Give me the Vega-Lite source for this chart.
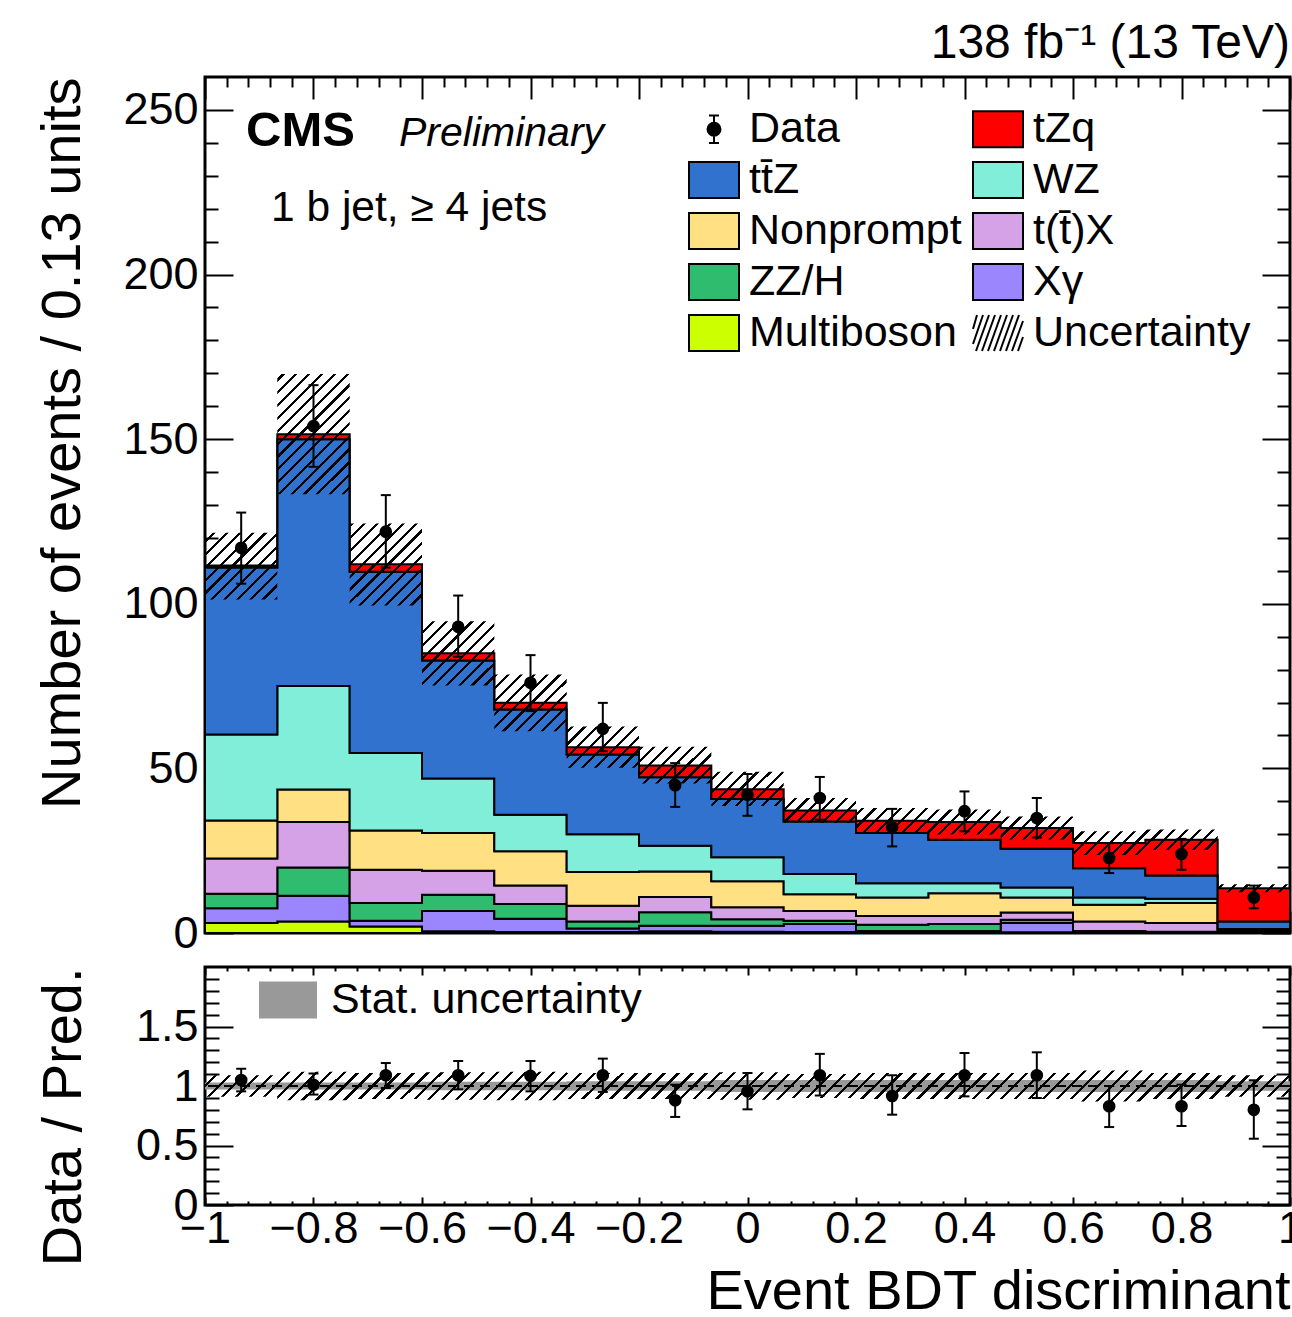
{
"$schema": "https://vega.github.io/schema/vega-lite/v6.json",
"padding": {"left": 33, "top": 18, "right": 0, "bottom": 0},
"spacing": 6,
"config": {
  "font": "Liberation Sans",
  "view": {"stroke": "black", "strokeWidth": 3},
  "axis": {"domain": false, "grid": false, "tickColor": "black", "tickWidth": 2, "labelColor": "black", "labelFontSize": 45, "titleFontSize": 56, "titleFontWeight": "normal", "titleColor": "black", "labelOverlap": false, "labelFlush": false, "zindex": 1},
  "legend": {"labelColor": "black", "labelLimit": 500, "padding": 0},
  "title": {"color": "black"}
},
"datasets": {
  "stack": [
    {"lo": -1, "hi": -0.8667, "Multiboson": 3.0, "X\u03b3": 4.5, "ZZ/H": 4.4, "t(t\u0304)X": 10.7, "Nonprompt": 11.6, "WZ": 26.1, "tt\u0304Z": 50.7, "tZq": 0.6},
    {"lo": -0.8667, "hi": -0.7333, "Multiboson": 3.5, "X\u03b3": 7.8, "ZZ/H": 8.6, "t(t\u0304)X": 13.8, "Nonprompt": 9.9, "WZ": 31.4, "tt\u0304Z": 75.0, "tZq": 1.5},
    {"lo": -0.7333, "hi": -0.6, "Multiboson": 2.0, "X\u03b3": 1.7, "ZZ/H": 5.4, "t(t\u0304)X": 10.1, "Nonprompt": 11.9, "WZ": 23.6, "tt\u0304Z": 55.0, "tZq": 2.3},
    {"lo": -0.6, "hi": -0.4667, "Multiboson": 0.5, "X\u03b3": 6.2, "ZZ/H": 4.9, "t(t\u0304)X": 7.3, "Nonprompt": 11.5, "WZ": 16.5, "tt\u0304Z": 35.9, "tZq": 2.2},
    {"lo": -0.4667, "hi": -0.3333, "Multiboson": 0.3, "X\u03b3": 4.0, "ZZ/H": 4.5, "t(t\u0304)X": 5.6, "Nonprompt": 10.4, "WZ": 11.1, "tt\u0304Z": 32.0, "tZq": 2.0},
    {"lo": -0.3333, "hi": -0.2, "Multiboson": 0.3, "X\u03b3": 1.1, "ZZ/H": 2.1, "t(t\u0304)X": 4.8, "Nonprompt": 10.2, "WZ": 11.5, "tt\u0304Z": 24.2, "tZq": 2.2},
    {"lo": -0.2, "hi": -0.0667, "Multiboson": 0.5, "X\u03b3": 1.7, "ZZ/H": 4.1, "t(t\u0304)X": 4.6, "Nonprompt": 7.8, "WZ": 7.8, "tt\u0304Z": 20.8, "tZq": 3.6},
    {"lo": -0.0667, "hi": 0.0667, "Multiboson": 0.4, "X\u03b3": 1.8, "ZZ/H": 2.0, "t(t\u0304)X": 3.6, "Nonprompt": 7.9, "WZ": 7.3, "tt\u0304Z": 17.7, "tZq": 3.0},
    {"lo": 0.0667, "hi": 0.2, "Multiboson": 0.3, "X\u03b3": 2.4, "ZZ/H": 1.0, "t(t\u0304)X": 3.0, "Nonprompt": 5.1, "WZ": 6.1, "tt\u0304Z": 16.0, "tZq": 3.3},
    {"lo": 0.2, "hi": 0.3333, "Multiboson": 0.2, "X\u03b3": 0.4, "ZZ/H": 1.9, "t(t\u0304)X": 2.7, "Nonprompt": 5.6, "WZ": 4.3, "tt\u0304Z": 15.3, "tZq": 3.7},
    {"lo": 0.3333, "hi": 0.4667, "Multiboson": 0.2, "X\u03b3": 0.4, "ZZ/H": 2.1, "t(t\u0304)X": 2.5, "Nonprompt": 6.9, "WZ": 3.0, "tt\u0304Z": 13.2, "tZq": 5.4},
    {"lo": 0.4667, "hi": 0.6, "Multiboson": 0.2, "X\u03b3": 2.8, "ZZ/H": 1.0, "t(t\u0304)X": 2.2, "Nonprompt": 4.6, "WZ": 3.0, "tt\u0304Z": 11.8, "tZq": 6.3},
    {"lo": 0.6, "hi": 0.7333, "Multiboson": 0.1, "X\u03b3": 0.2, "ZZ/H": 0.3, "t(t\u0304)X": 2.9, "Nonprompt": 5.1, "WZ": 2.2, "tt\u0304Z": 8.9, "tZq": 7.6},
    {"lo": 0.7333, "hi": 0.8667, "Multiboson": 0.1, "X\u03b3": 0.1, "ZZ/H": 0.2, "t(t\u0304)X": 2.6, "Nonprompt": 6.1, "WZ": 1.3, "tt\u0304Z": 7.1, "tZq": 10.8},
    {"lo": 0.8667, "hi": 1, "Multiboson": 0.1, "X\u03b3": 0.1, "ZZ/H": 0.1, "t(t\u0304)X": 0.3, "Nonprompt": 0.4, "WZ": 0.2, "tt\u0304Z": 2.3, "tZq": 10.1}
  ],
  "bins": [
    {"lo": -1, "hi": -0.8667, "c": -0.9333, "u_lo": 101.3, "u_hi": 121.6, "d": 117.0, "d_lo": 106.1, "d_hi": 127.7, "r": 1.05, "r_lo": 0.955, "r_hi": 1.145, "s_lo": 0.97, "s_hi": 1.03, "h_lo": 0.91, "h_hi": 1.09},
    {"lo": -0.8667, "hi": -0.7333, "c": -0.8, "u_lo": 133.3, "u_hi": 169.8, "d": 154.0, "d_lo": 141.6, "d_hi": 166.4, "r": 1.01, "r_lo": 0.928, "r_hi": 1.105, "s_lo": 0.97, "s_hi": 1.03, "h_lo": 0.88, "h_hi": 1.12},
    {"lo": -0.7333, "hi": -0.6, "c": -0.6667, "u_lo": 99.5, "u_hi": 124.4, "d": 121.9, "d_lo": 111.0, "d_hi": 133.0, "r": 1.09, "r_lo": 0.983, "r_hi": 1.193, "s_lo": 0.97, "s_hi": 1.03, "h_lo": 0.89, "h_hi": 1.11},
    {"lo": -0.6, "hi": -0.4667, "c": -0.5333, "u_lo": 75.2, "u_hi": 94.7, "d": 93.0, "d_lo": 83.9, "d_hi": 102.5, "r": 1.09, "r_lo": 0.972, "r_hi": 1.21, "s_lo": 0.965, "s_hi": 1.035, "h_lo": 0.885, "h_hi": 1.115},
    {"lo": -0.4667, "hi": -0.3333, "c": -0.4, "u_lo": 61.3, "u_hi": 78.5, "d": 76.0, "d_lo": 67.4, "d_hi": 84.4, "r": 1.085, "r_lo": 0.955, "r_hi": 1.21, "s_lo": 0.965, "s_hi": 1.035, "h_lo": 0.88, "h_hi": 1.12},
    {"lo": -0.3333, "hi": -0.2, "c": -0.2667, "u_lo": 50.2, "u_hi": 62.7, "d": 62.0, "d_lo": 55.2, "d_hi": 69.9, "r": 1.09, "r_lo": 0.95, "r_hi": 1.23, "s_lo": 0.96, "s_hi": 1.04, "h_lo": 0.89, "h_hi": 1.11},
    {"lo": -0.2, "hi": -0.0667, "c": -0.1333, "u_lo": 45.4, "u_hi": 56.6, "d": 44.9, "d_lo": 38.3, "d_hi": 51.6, "r": 0.88, "r_lo": 0.74, "r_hi": 1.011, "s_lo": 0.96, "s_hi": 1.04, "h_lo": 0.89, "h_hi": 1.11},
    {"lo": -0.0667, "hi": 0.0667, "c": 0, "u_lo": 38.6, "u_hi": 49.0, "d": 42.0, "d_lo": 35.6, "d_hi": 48.3, "r": 0.955, "r_lo": 0.804, "r_hi": 1.109, "s_lo": 0.95, "s_hi": 1.05, "h_lo": 0.885, "h_hi": 1.115},
    {"lo": 0.0667, "hi": 0.2, "c": 0.1333, "u_lo": 33.4, "u_hi": 41.0, "d": 41.0, "d_lo": 34.4, "d_hi": 47.4, "r": 1.09, "r_lo": 0.92, "r_hi": 1.27, "s_lo": 0.95, "s_hi": 1.05, "h_lo": 0.9, "h_hi": 1.1},
    {"lo": 0.2, "hi": 0.3333, "c": 0.2667, "u_lo": 30.2, "u_hi": 38.0, "d": 32.1, "d_lo": 26.3, "d_hi": 37.7, "r": 0.916, "r_lo": 0.759, "r_hi": 1.09, "s_lo": 0.95, "s_hi": 1.05, "h_lo": 0.89, "h_hi": 1.11},
    {"lo": 0.3333, "hi": 0.4667, "c": 0.4, "u_lo": 29.9, "u_hi": 37.5, "d": 37.0, "d_lo": 30.9, "d_hi": 43.0, "r": 1.09, "r_lo": 0.913, "r_hi": 1.277, "s_lo": 0.95, "s_hi": 1.05, "h_lo": 0.89, "h_hi": 1.11},
    {"lo": 0.4667, "hi": 0.6, "c": 0.5333, "u_lo": 28.4, "u_hi": 35.4, "d": 34.9, "d_lo": 29.0, "d_hi": 41.0, "r": 1.09, "r_lo": 0.899, "r_hi": 1.283, "s_lo": 0.95, "s_hi": 1.05, "h_lo": 0.89, "h_hi": 1.11},
    {"lo": 0.6, "hi": 0.7333, "c": 0.6667, "u_lo": 23.7, "u_hi": 30.9, "d": 22.8, "d_lo": 18.2, "d_hi": 27.3, "r": 0.83, "r_lo": 0.655, "r_hi": 1.0, "s_lo": 0.95, "s_hi": 1.05, "h_lo": 0.87, "h_hi": 1.13},
    {"lo": 0.7333, "hi": 0.8667, "c": 0.8, "u_lo": 25.2, "u_hi": 31.4, "d": 24.0, "d_lo": 19.2, "d_hi": 28.6, "r": 0.83, "r_lo": 0.664, "r_hi": 1.011, "s_lo": 0.95, "s_hi": 1.05, "h_lo": 0.89, "h_hi": 1.11},
    {"lo": 0.8667, "hi": 1, "c": 0.9333, "u_lo": 12.4, "u_hi": 14.8, "d": 10.8, "d_lo": 7.5, "d_hi": 14.4, "r": 0.8, "r_lo": 0.557, "r_hi": 1.048, "s_lo": 0.96, "s_hi": 1.04, "h_lo": 0.91, "h_hi": 1.09}
  ]
},
"resolve": {"legend": {"color": "independent", "fill": "independent"}},
"vconcat": [
  {
    "width": 1085,
    "height": 856,
    "title": {"text": "138 fb\u207b\u00b9 (13 TeV)", "anchor": "end", "frame": "group", "fontSize": 48, "fontWeight": "normal", "offset": 8, "color": "black"},
    "resolve": {"axis": {"x": "independent", "y": "independent"}},
    "layer": [
      {
        "data": {"name": "stack"},
        "transform": [
          {"fold": ["Multiboson", "X\u03b3", "ZZ/H", "t(t\u0304)X", "Nonprompt", "WZ", "tt\u0304Z", "tZq"], "as": ["p", "v"]},
          {"fold": ["lo", "hi"], "as": ["side", "x"]},
          {"stack": "v", "groupby": ["x", "side"], "as": ["y0", "y1"]}
        ],
        "mark": {"type": "area", "stroke": "black", "strokeWidth": 2, "opacity": 1},
        "encoding": {
          "x": {"field": "x", "type": "quantitative", "scale": {"domain": [-1, 1], "nice": false, "zero": false},
                "axis": {"orient": "bottom", "values": [-1, -0.8, -0.6, -0.4, -0.2, 0, 0.2, 0.4, 0.6, 0.8, 1], "labels": false, "tickSize": -22, "title": null}},
          "y": {"field": "y1", "type": "quantitative", "scale": {"domain": [0, 260], "nice": false, "zero": false},
                "axis": {"orient": "left", "values": [0, 50, 100, 150, 200, 250], "format": "d", "tickSize": -28, "labelPadding": 35, "title": "Number of events / 0.13 units", "titleAnchor": "end", "titlePadding": 31}},
          "y2": {"field": "y0"},
          "color": {"field": "p", "type": "nominal",
                    "scale": {"domain": ["Data", "tZq", "tt\u0304Z", "WZ", "Nonprompt", "t(t\u0304)X", "ZZ/H", "X\u03b3", "Multiboson", "Uncertainty"],
                              "range": ["black", "#ff0000", "#3272cf", "#80eed9", "#ffe083", "#d6a2e7", "#2fbc6f", "#9b86fd", "#ccff00", "transparent"]},
                    "legend": {"title": null, "orient": "none", "direction": "horizontal", "legendX": 487.5, "legendY": 30.5, "columns": 2, "symbolSize": 1600, "symbolStrokeWidth": 2, "symbolStrokeColor": "black", "labelFontSize": 43, "labelOffset": 13.5, "rowPadding": 6, "columnPadding": 6, "padding": 0,
                               "symbolType": {"expr": "datum.value === 'Data' ? 'M-0.325,0A0.325,0.325 0 1,0 0.325,0A0.325,0.325 0 1,0 -0.325,0ZM0,-0.69V0.69M-0.25,-0.69H0.25M-0.25,0.69H0.25' : datum.value === 'Uncertainty' ? 'M-1.25,-0.2L-1.05,-0.9M-1.25,0.55L-0.75,-0.9M-1.1,0.9L-0.45,-0.9M-0.8,0.9L-0.15,-0.9M-0.5,0.9L0.15,-0.9M-0.2,0.9L0.45,-0.9M0.1,0.9L0.75,-0.9M0.4,0.9L1.05,-0.9M0.7,0.9L1.25,-0.6M1.0,0.9L1.25,0.2' : 'M-1.25,-0.9H1.25V0.9H-1.25Z'"}}}
        }
      },
      {
        "data": {"name": "bins"},
        "transform": [{"fold": ["lo", "hi"], "as": ["side", "x"]}],
        "mark": {"type": "area", "opacity": 1, "fill": {"gradient": "linear", "x1": 0, "y1": 0, "x2": 1.2031, "y2": 0.5753, "stops": [
{"offset":0,"color":"#000"},{"offset":0.002,"color":"#000"},{"offset":0.002,"color":"transparent"},{"offset":0.008,"color":"transparent"},
{"offset":0.008,"color":"#000"},{"offset":0.01,"color":"#000"},{"offset":0.01,"color":"transparent"},{"offset":0.016,"color":"transparent"},
{"offset":0.016,"color":"#000"},{"offset":0.018,"color":"#000"},{"offset":0.018,"color":"transparent"},{"offset":0.024,"color":"transparent"},
{"offset":0.024,"color":"#000"},{"offset":0.026,"color":"#000"},{"offset":0.026,"color":"transparent"},{"offset":0.032,"color":"transparent"},
{"offset":0.032,"color":"#000"},{"offset":0.034,"color":"#000"},{"offset":0.034,"color":"transparent"},{"offset":0.04,"color":"transparent"},
{"offset":0.04,"color":"#000"},{"offset":0.042,"color":"#000"},{"offset":0.042,"color":"transparent"},{"offset":0.048,"color":"transparent"},
{"offset":0.048,"color":"#000"},{"offset":0.05,"color":"#000"},{"offset":0.05,"color":"transparent"},{"offset":0.056,"color":"transparent"},
{"offset":0.056,"color":"#000"},{"offset":0.058,"color":"#000"},{"offset":0.058,"color":"transparent"},{"offset":0.064,"color":"transparent"},
{"offset":0.064,"color":"#000"},{"offset":0.066,"color":"#000"},{"offset":0.066,"color":"transparent"},{"offset":0.072,"color":"transparent"},
{"offset":0.072,"color":"#000"},{"offset":0.074,"color":"#000"},{"offset":0.074,"color":"transparent"},{"offset":0.08,"color":"transparent"},
{"offset":0.08,"color":"#000"},{"offset":0.082,"color":"#000"},{"offset":0.082,"color":"transparent"},{"offset":0.088,"color":"transparent"},
{"offset":0.088,"color":"#000"},{"offset":0.09,"color":"#000"},{"offset":0.09,"color":"transparent"},{"offset":0.096,"color":"transparent"},
{"offset":0.096,"color":"#000"},{"offset":0.098,"color":"#000"},{"offset":0.098,"color":"transparent"},{"offset":0.104,"color":"transparent"},
{"offset":0.104,"color":"#000"},{"offset":0.106,"color":"#000"},{"offset":0.106,"color":"transparent"},{"offset":0.112,"color":"transparent"},
{"offset":0.112,"color":"#000"},{"offset":0.114,"color":"#000"},{"offset":0.114,"color":"transparent"},{"offset":0.12,"color":"transparent"},
{"offset":0.12,"color":"#000"},{"offset":0.122,"color":"#000"},{"offset":0.122,"color":"transparent"},{"offset":0.128,"color":"transparent"},
{"offset":0.128,"color":"#000"},{"offset":0.13,"color":"#000"},{"offset":0.13,"color":"transparent"},{"offset":0.136,"color":"transparent"},
{"offset":0.136,"color":"#000"},{"offset":0.138,"color":"#000"},{"offset":0.138,"color":"transparent"},{"offset":0.144,"color":"transparent"},
{"offset":0.144,"color":"#000"},{"offset":0.146,"color":"#000"},{"offset":0.146,"color":"transparent"},{"offset":0.152,"color":"transparent"},
{"offset":0.152,"color":"#000"},{"offset":0.154,"color":"#000"},{"offset":0.154,"color":"transparent"},{"offset":0.16,"color":"transparent"},
{"offset":0.16,"color":"#000"},{"offset":0.162,"color":"#000"},{"offset":0.162,"color":"transparent"},{"offset":0.168,"color":"transparent"},
{"offset":0.168,"color":"#000"},{"offset":0.17,"color":"#000"},{"offset":0.17,"color":"transparent"},{"offset":0.176,"color":"transparent"},
{"offset":0.176,"color":"#000"},{"offset":0.178,"color":"#000"},{"offset":0.178,"color":"transparent"},{"offset":0.184,"color":"transparent"},
{"offset":0.184,"color":"#000"},{"offset":0.186,"color":"#000"},{"offset":0.186,"color":"transparent"},{"offset":0.192,"color":"transparent"},
{"offset":0.192,"color":"#000"},{"offset":0.194,"color":"#000"},{"offset":0.194,"color":"transparent"},{"offset":0.2,"color":"transparent"},
{"offset":0.2,"color":"#000"},{"offset":0.202,"color":"#000"},{"offset":0.202,"color":"transparent"},{"offset":0.208,"color":"transparent"},
{"offset":0.208,"color":"#000"},{"offset":0.21,"color":"#000"},{"offset":0.21,"color":"transparent"},{"offset":0.216,"color":"transparent"},
{"offset":0.216,"color":"#000"},{"offset":0.218,"color":"#000"},{"offset":0.218,"color":"transparent"},{"offset":0.224,"color":"transparent"},
{"offset":0.224,"color":"#000"},{"offset":0.226,"color":"#000"},{"offset":0.226,"color":"transparent"},{"offset":0.232,"color":"transparent"},
{"offset":0.232,"color":"#000"},{"offset":0.234,"color":"#000"},{"offset":0.234,"color":"transparent"},{"offset":0.24,"color":"transparent"},
{"offset":0.24,"color":"#000"},{"offset":0.242,"color":"#000"},{"offset":0.242,"color":"transparent"},{"offset":0.248,"color":"transparent"},
{"offset":0.248,"color":"#000"},{"offset":0.25,"color":"#000"},{"offset":0.25,"color":"transparent"},{"offset":0.256,"color":"transparent"},
{"offset":0.256,"color":"#000"},{"offset":0.258,"color":"#000"},{"offset":0.258,"color":"transparent"},{"offset":0.264,"color":"transparent"},
{"offset":0.264,"color":"#000"},{"offset":0.266,"color":"#000"},{"offset":0.266,"color":"transparent"},{"offset":0.272,"color":"transparent"},
{"offset":0.272,"color":"#000"},{"offset":0.274,"color":"#000"},{"offset":0.274,"color":"transparent"},{"offset":0.28,"color":"transparent"},
{"offset":0.28,"color":"#000"},{"offset":0.282,"color":"#000"},{"offset":0.282,"color":"transparent"},{"offset":0.288,"color":"transparent"},
{"offset":0.288,"color":"#000"},{"offset":0.29,"color":"#000"},{"offset":0.29,"color":"transparent"},{"offset":0.296,"color":"transparent"},
{"offset":0.296,"color":"#000"},{"offset":0.298,"color":"#000"},{"offset":0.298,"color":"transparent"},{"offset":0.304,"color":"transparent"},
{"offset":0.304,"color":"#000"},{"offset":0.306,"color":"#000"},{"offset":0.306,"color":"transparent"},{"offset":0.312,"color":"transparent"},
{"offset":0.312,"color":"#000"},{"offset":0.314,"color":"#000"},{"offset":0.314,"color":"transparent"},{"offset":0.32,"color":"transparent"},
{"offset":0.32,"color":"#000"},{"offset":0.322,"color":"#000"},{"offset":0.322,"color":"transparent"},{"offset":0.328,"color":"transparent"},
{"offset":0.328,"color":"#000"},{"offset":0.33,"color":"#000"},{"offset":0.33,"color":"transparent"},{"offset":0.336,"color":"transparent"},
{"offset":0.336,"color":"#000"},{"offset":0.338,"color":"#000"},{"offset":0.338,"color":"transparent"},{"offset":0.344,"color":"transparent"},
{"offset":0.344,"color":"#000"},{"offset":0.346,"color":"#000"},{"offset":0.346,"color":"transparent"},{"offset":0.352,"color":"transparent"},
{"offset":0.352,"color":"#000"},{"offset":0.354,"color":"#000"},{"offset":0.354,"color":"transparent"},{"offset":0.36,"color":"transparent"},
{"offset":0.36,"color":"#000"},{"offset":0.362,"color":"#000"},{"offset":0.362,"color":"transparent"},{"offset":0.368,"color":"transparent"},
{"offset":0.368,"color":"#000"},{"offset":0.37,"color":"#000"},{"offset":0.37,"color":"transparent"},{"offset":0.376,"color":"transparent"},
{"offset":0.376,"color":"#000"},{"offset":0.378,"color":"#000"},{"offset":0.378,"color":"transparent"},{"offset":0.384,"color":"transparent"},
{"offset":0.384,"color":"#000"},{"offset":0.386,"color":"#000"},{"offset":0.386,"color":"transparent"},{"offset":0.392,"color":"transparent"},
{"offset":0.392,"color":"#000"},{"offset":0.394,"color":"#000"},{"offset":0.394,"color":"transparent"},{"offset":0.4,"color":"transparent"},
{"offset":0.4,"color":"#000"},{"offset":0.402,"color":"#000"},{"offset":0.402,"color":"transparent"},{"offset":0.408,"color":"transparent"},
{"offset":0.408,"color":"#000"},{"offset":0.41,"color":"#000"},{"offset":0.41,"color":"transparent"},{"offset":0.416,"color":"transparent"},
{"offset":0.416,"color":"#000"},{"offset":0.418,"color":"#000"},{"offset":0.418,"color":"transparent"},{"offset":0.424,"color":"transparent"},
{"offset":0.424,"color":"#000"},{"offset":0.426,"color":"#000"},{"offset":0.426,"color":"transparent"},{"offset":0.432,"color":"transparent"},
{"offset":0.432,"color":"#000"},{"offset":0.434,"color":"#000"},{"offset":0.434,"color":"transparent"},{"offset":0.44,"color":"transparent"},
{"offset":0.44,"color":"#000"},{"offset":0.442,"color":"#000"},{"offset":0.442,"color":"transparent"},{"offset":0.448,"color":"transparent"},
{"offset":0.448,"color":"#000"},{"offset":0.45,"color":"#000"},{"offset":0.45,"color":"transparent"},{"offset":0.456,"color":"transparent"},
{"offset":0.456,"color":"#000"},{"offset":0.458,"color":"#000"},{"offset":0.458,"color":"transparent"},{"offset":0.464,"color":"transparent"},
{"offset":0.464,"color":"#000"},{"offset":0.466,"color":"#000"},{"offset":0.466,"color":"transparent"},{"offset":0.472,"color":"transparent"},
{"offset":0.472,"color":"#000"},{"offset":0.474,"color":"#000"},{"offset":0.474,"color":"transparent"},{"offset":0.48,"color":"transparent"},
{"offset":0.48,"color":"#000"},{"offset":0.482,"color":"#000"},{"offset":0.482,"color":"transparent"},{"offset":0.488,"color":"transparent"},
{"offset":0.488,"color":"#000"},{"offset":0.49,"color":"#000"},{"offset":0.49,"color":"transparent"},{"offset":0.496,"color":"transparent"},
{"offset":0.496,"color":"#000"},{"offset":0.498,"color":"#000"},{"offset":0.498,"color":"transparent"},{"offset":0.504,"color":"transparent"},
{"offset":0.504,"color":"#000"},{"offset":0.506,"color":"#000"},{"offset":0.506,"color":"transparent"},{"offset":0.512,"color":"transparent"},
{"offset":0.512,"color":"#000"},{"offset":0.514,"color":"#000"},{"offset":0.514,"color":"transparent"},{"offset":0.52,"color":"transparent"},
{"offset":0.52,"color":"#000"},{"offset":0.522,"color":"#000"},{"offset":0.522,"color":"transparent"},{"offset":0.528,"color":"transparent"},
{"offset":0.528,"color":"#000"},{"offset":0.53,"color":"#000"},{"offset":0.53,"color":"transparent"},{"offset":0.536,"color":"transparent"},
{"offset":0.536,"color":"#000"},{"offset":0.538,"color":"#000"},{"offset":0.538,"color":"transparent"},{"offset":0.544,"color":"transparent"},
{"offset":0.544,"color":"#000"},{"offset":0.546,"color":"#000"},{"offset":0.546,"color":"transparent"},{"offset":0.552,"color":"transparent"},
{"offset":0.552,"color":"#000"},{"offset":0.554,"color":"#000"},{"offset":0.554,"color":"transparent"},{"offset":0.56,"color":"transparent"},
{"offset":0.56,"color":"#000"},{"offset":0.562,"color":"#000"},{"offset":0.562,"color":"transparent"},{"offset":0.568,"color":"transparent"},
{"offset":0.568,"color":"#000"},{"offset":0.57,"color":"#000"},{"offset":0.57,"color":"transparent"},{"offset":0.576,"color":"transparent"},
{"offset":0.576,"color":"#000"},{"offset":0.578,"color":"#000"},{"offset":0.578,"color":"transparent"},{"offset":0.584,"color":"transparent"},
{"offset":0.584,"color":"#000"},{"offset":0.586,"color":"#000"},{"offset":0.586,"color":"transparent"},{"offset":0.592,"color":"transparent"},
{"offset":0.592,"color":"#000"},{"offset":0.594,"color":"#000"},{"offset":0.594,"color":"transparent"},{"offset":0.6,"color":"transparent"},
{"offset":0.6,"color":"#000"},{"offset":0.602,"color":"#000"},{"offset":0.602,"color":"transparent"},{"offset":0.608,"color":"transparent"},
{"offset":0.608,"color":"#000"},{"offset":0.61,"color":"#000"},{"offset":0.61,"color":"transparent"},{"offset":0.616,"color":"transparent"},
{"offset":0.616,"color":"#000"},{"offset":0.618,"color":"#000"},{"offset":0.618,"color":"transparent"},{"offset":0.624,"color":"transparent"},
{"offset":0.624,"color":"#000"},{"offset":0.626,"color":"#000"},{"offset":0.626,"color":"transparent"},{"offset":0.632,"color":"transparent"},
{"offset":0.632,"color":"#000"},{"offset":0.634,"color":"#000"},{"offset":0.634,"color":"transparent"},{"offset":0.64,"color":"transparent"},
{"offset":0.64,"color":"#000"},{"offset":0.642,"color":"#000"},{"offset":0.642,"color":"transparent"},{"offset":0.648,"color":"transparent"},
{"offset":0.648,"color":"#000"},{"offset":0.65,"color":"#000"},{"offset":0.65,"color":"transparent"},{"offset":0.656,"color":"transparent"},
{"offset":0.656,"color":"#000"},{"offset":0.658,"color":"#000"},{"offset":0.658,"color":"transparent"},{"offset":0.664,"color":"transparent"},
{"offset":0.664,"color":"#000"},{"offset":0.666,"color":"#000"},{"offset":0.666,"color":"transparent"},{"offset":0.672,"color":"transparent"},
{"offset":0.672,"color":"#000"},{"offset":0.674,"color":"#000"},{"offset":0.674,"color":"transparent"},{"offset":0.68,"color":"transparent"},
{"offset":0.68,"color":"#000"},{"offset":0.682,"color":"#000"},{"offset":0.682,"color":"transparent"},{"offset":0.688,"color":"transparent"},
{"offset":0.688,"color":"#000"},{"offset":0.69,"color":"#000"},{"offset":0.69,"color":"transparent"},{"offset":0.696,"color":"transparent"},
{"offset":0.696,"color":"#000"},{"offset":0.698,"color":"#000"},{"offset":0.698,"color":"transparent"},{"offset":0.704,"color":"transparent"},
{"offset":0.704,"color":"#000"},{"offset":0.706,"color":"#000"},{"offset":0.706,"color":"transparent"},{"offset":0.712,"color":"transparent"},
{"offset":0.712,"color":"#000"},{"offset":0.714,"color":"#000"},{"offset":0.714,"color":"transparent"},{"offset":0.72,"color":"transparent"},
{"offset":0.72,"color":"#000"},{"offset":0.722,"color":"#000"},{"offset":0.722,"color":"transparent"},{"offset":0.728,"color":"transparent"},
{"offset":0.728,"color":"#000"},{"offset":0.73,"color":"#000"},{"offset":0.73,"color":"transparent"},{"offset":0.736,"color":"transparent"},
{"offset":0.736,"color":"#000"},{"offset":0.738,"color":"#000"},{"offset":0.738,"color":"transparent"},{"offset":0.744,"color":"transparent"},
{"offset":0.744,"color":"#000"},{"offset":0.746,"color":"#000"},{"offset":0.746,"color":"transparent"},{"offset":0.752,"color":"transparent"},
{"offset":0.752,"color":"#000"},{"offset":0.754,"color":"#000"},{"offset":0.754,"color":"transparent"},{"offset":0.76,"color":"transparent"},
{"offset":0.76,"color":"#000"},{"offset":0.762,"color":"#000"},{"offset":0.762,"color":"transparent"},{"offset":0.768,"color":"transparent"},
{"offset":0.768,"color":"#000"},{"offset":0.77,"color":"#000"},{"offset":0.77,"color":"transparent"},{"offset":0.776,"color":"transparent"},
{"offset":0.776,"color":"#000"},{"offset":0.778,"color":"#000"},{"offset":0.778,"color":"transparent"},{"offset":0.784,"color":"transparent"},
{"offset":0.784,"color":"#000"},{"offset":0.786,"color":"#000"},{"offset":0.786,"color":"transparent"},{"offset":0.792,"color":"transparent"},
{"offset":0.792,"color":"#000"},{"offset":0.794,"color":"#000"},{"offset":0.794,"color":"transparent"},{"offset":0.8,"color":"transparent"},
{"offset":0.8,"color":"#000"},{"offset":0.802,"color":"#000"},{"offset":0.802,"color":"transparent"},{"offset":0.808,"color":"transparent"},
{"offset":0.808,"color":"#000"},{"offset":0.81,"color":"#000"},{"offset":0.81,"color":"transparent"},{"offset":0.816,"color":"transparent"},
{"offset":0.816,"color":"#000"},{"offset":0.818,"color":"#000"},{"offset":0.818,"color":"transparent"},{"offset":0.824,"color":"transparent"},
{"offset":0.824,"color":"#000"},{"offset":0.826,"color":"#000"},{"offset":0.826,"color":"transparent"},{"offset":0.832,"color":"transparent"},
{"offset":0.832,"color":"#000"},{"offset":0.834,"color":"#000"},{"offset":0.834,"color":"transparent"},{"offset":0.84,"color":"transparent"},
{"offset":0.84,"color":"#000"},{"offset":0.842,"color":"#000"},{"offset":0.842,"color":"transparent"},{"offset":0.848,"color":"transparent"},
{"offset":0.848,"color":"#000"},{"offset":0.85,"color":"#000"},{"offset":0.85,"color":"transparent"},{"offset":0.856,"color":"transparent"},
{"offset":0.856,"color":"#000"},{"offset":0.858,"color":"#000"},{"offset":0.858,"color":"transparent"},{"offset":0.864,"color":"transparent"},
{"offset":0.864,"color":"#000"},{"offset":0.866,"color":"#000"},{"offset":0.866,"color":"transparent"},{"offset":0.872,"color":"transparent"},
{"offset":0.872,"color":"#000"},{"offset":0.874,"color":"#000"},{"offset":0.874,"color":"transparent"},{"offset":0.88,"color":"transparent"},
{"offset":0.88,"color":"#000"},{"offset":0.882,"color":"#000"},{"offset":0.882,"color":"transparent"},{"offset":0.888,"color":"transparent"},
{"offset":0.888,"color":"#000"},{"offset":0.89,"color":"#000"},{"offset":0.89,"color":"transparent"},{"offset":0.896,"color":"transparent"},
{"offset":0.896,"color":"#000"},{"offset":0.898,"color":"#000"},{"offset":0.898,"color":"transparent"},{"offset":0.904,"color":"transparent"},
{"offset":0.904,"color":"#000"},{"offset":0.906,"color":"#000"},{"offset":0.906,"color":"transparent"},{"offset":0.912,"color":"transparent"},
{"offset":0.912,"color":"#000"},{"offset":0.914,"color":"#000"},{"offset":0.914,"color":"transparent"},{"offset":0.92,"color":"transparent"},
{"offset":0.92,"color":"#000"},{"offset":0.922,"color":"#000"},{"offset":0.922,"color":"transparent"},{"offset":0.928,"color":"transparent"},
{"offset":0.928,"color":"#000"},{"offset":0.93,"color":"#000"},{"offset":0.93,"color":"transparent"},{"offset":0.936,"color":"transparent"},
{"offset":0.936,"color":"#000"},{"offset":0.938,"color":"#000"},{"offset":0.938,"color":"transparent"},{"offset":0.944,"color":"transparent"},
{"offset":0.944,"color":"#000"},{"offset":0.946,"color":"#000"},{"offset":0.946,"color":"transparent"},{"offset":0.952,"color":"transparent"},
{"offset":0.952,"color":"#000"},{"offset":0.954,"color":"#000"},{"offset":0.954,"color":"transparent"},{"offset":0.96,"color":"transparent"},
{"offset":0.96,"color":"#000"},{"offset":0.962,"color":"#000"},{"offset":0.962,"color":"transparent"},{"offset":0.968,"color":"transparent"},
{"offset":0.968,"color":"#000"},{"offset":0.97,"color":"#000"},{"offset":0.97,"color":"transparent"},{"offset":0.976,"color":"transparent"},
{"offset":0.976,"color":"#000"},{"offset":0.978,"color":"#000"},{"offset":0.978,"color":"transparent"},{"offset":0.984,"color":"transparent"},
{"offset":0.984,"color":"#000"},{"offset":0.986,"color":"#000"},{"offset":0.986,"color":"transparent"},{"offset":0.992,"color":"transparent"},
{"offset":0.992,"color":"#000"},{"offset":0.994,"color":"#000"},{"offset":0.994,"color":"transparent"},{"offset":1,"color":"transparent"}
        ]}},
        "encoding": {
          "x": {"field": "x", "type": "quantitative", "scale": {"domain": [-1, 1], "nice": false, "zero": false},
                "axis": {"orient": "top", "values": [-1, -0.8, -0.6, -0.4, -0.2, 0, 0.2, 0.4, 0.6, 0.8, 1], "labels": false, "tickSize": -22, "title": null}},
          "y": {"field": "u_hi", "type": "quantitative", "scale": {"domain": [0, 260], "nice": false, "zero": false},
                "axis": {"orient": "right", "values": [0, 50, 100, 150, 200, 250], "labels": false, "tickSize": -28, "title": null}},
          "y2": {"field": "u_lo"}
        }
      },
      {
        "data": {"name": "bins"},
        "mark": {"type": "rule", "color": "black", "strokeWidth": 2},
        "encoding": {
          "x": {"field": "c", "type": "quantitative", "scale": {"domain": [-1, 1], "nice": false, "zero": false},
                "axis": {"orient": "bottom", "values": [-0.96,-0.92,-0.88,-0.84,-0.76,-0.72,-0.68,-0.64,-0.56,-0.52,-0.48,-0.44,-0.36,-0.32,-0.28,-0.24,-0.16,-0.12,-0.08,-0.04,0.04,0.08,0.12,0.16,0.24,0.28,0.32,0.36,0.44,0.48,0.52,0.56,0.64,0.68,0.72,0.76,0.84,0.88,0.92,0.96], "labels": false, "tickSize": -10, "title": null}},
          "y": {"field": "d_lo", "type": "quantitative", "scale": {"domain": [0, 260], "nice": false, "zero": false},
                "axis": {"orient": "left", "values": [10,20,30,40,60,70,80,90,110,120,130,140,160,170,180,190,210,220,230,240], "labels": false, "tickSize": -13, "title": null}},
          "y2": {"field": "d_hi"}
        }
      },
      {
        "data": {"name": "bins"},
        "transform": [{"fold": ["d_lo", "d_hi"], "as": ["e", "ev"]}],
        "mark": {"type": "point", "shape": "M-1,0H1", "size": 100, "filled": false, "stroke": "black", "strokeWidth": 2, "opacity": 1},
        "encoding": {
          "x": {"field": "c", "type": "quantitative", "scale": {"domain": [-1, 1], "nice": false, "zero": false},
                "axis": {"orient": "top", "values": [-0.96,-0.92,-0.88,-0.84,-0.76,-0.72,-0.68,-0.64,-0.56,-0.52,-0.48,-0.44,-0.36,-0.32,-0.28,-0.24,-0.16,-0.12,-0.08,-0.04,0.04,0.08,0.12,0.16,0.24,0.28,0.32,0.36,0.44,0.48,0.52,0.56,0.64,0.68,0.72,0.76,0.84,0.88,0.92,0.96], "labels": false, "tickSize": -10, "title": null}},
          "y": {"field": "ev", "type": "quantitative", "scale": {"domain": [0, 260], "nice": false, "zero": false},
                "axis": {"orient": "right", "values": [10,20,30,40,60,70,80,90,110,120,130,140,160,170,180,190,210,220,230,240], "labels": false, "tickSize": -13, "title": null}}
        }
      },
      {
        "data": {"name": "bins"},
        "mark": {"type": "circle", "color": "black", "size": 160, "opacity": 1},
        "encoding": {
          "x": {"field": "c", "type": "quantitative", "scale": {"domain": [-1, 1], "nice": false, "zero": false}, "axis": null},
          "y": {"field": "d", "type": "quantitative", "scale": {"domain": [0, 260], "nice": false, "zero": false}, "axis": null}
        }
      },
      {
        "data": {"values": [{"t": "CMS"}]},
        "mark": {"type": "text", "fontSize": 49, "fontWeight": "bold", "align": "left", "baseline": "alphabetic", "color": "black"},
        "encoding": {"x": {"datum": -0.9244, "type": "quantitative", "axis": null}, "y": {"datum": 239.0, "type": "quantitative", "axis": null}, "text": {"field": "t"}}
      },
      {
        "data": {"values": [{"t": "Preliminary"}]},
        "mark": {"type": "text", "fontSize": 41, "fontStyle": "italic", "align": "left", "baseline": "alphabetic", "color": "black"},
        "encoding": {"x": {"datum": -0.6424, "type": "quantitative", "axis": null}, "y": {"datum": 239.0, "type": "quantitative", "axis": null}, "text": {"field": "t"}}
      },
      {
        "data": {"values": [{"t": "1 b jet, \u2265 4 jets"}]},
        "mark": {"type": "text", "fontSize": 42.5, "align": "left", "baseline": "alphabetic", "color": "black"},
        "encoding": {"x": {"datum": -0.8783, "type": "quantitative", "axis": null}, "y": {"datum": 216.4, "type": "quantitative", "axis": null}, "text": {"field": "t"}}
      }
    ]
  },
  {
    "width": 1085,
    "height": 238,
    "resolve": {"axis": {"x": "independent", "y": "independent"}},
    "layer": [
      {
        "data": {"name": "bins"},
        "transform": [{"fold": ["lo", "hi"], "as": ["side", "x"]}],
        "mark": {"type": "area", "opacity": 1},
        "encoding": {
          "x": {"field": "x", "type": "quantitative", "scale": {"domain": [-1, 1], "nice": false, "zero": false},
                "axis": {"orient": "bottom", "values": [-1, -0.8, -0.6, -0.4, -0.2, 0, 0.2, 0.4, 0.6, 0.8, 1], "format": "~g", "tickSize": -8, "labelPadding": 9, "title": "Event BDT discriminant", "titleAnchor": "end", "titlePadding": 13}},
          "y": {"field": "s_hi", "type": "quantitative", "scale": {"domain": [0, 2], "nice": false, "zero": false},
                "axis": {"orient": "left", "values": [0, 0.5, 1, 1.5], "format": "~g", "tickSize": -28, "labelPadding": 35, "title": "Data / Pred.", "titleAnchor": "end", "titlePadding": 43}},
          "y2": {"field": "s_lo"},
          "fill": {"datum": "Stat. uncertainty", "type": "nominal", "scale": {"range": ["#999999"]},
                   "legend": {"title": null, "orient": "none", "legendX": 54, "legendY": 4, "symbolType": "M-1,-0.64H1V0.64H-1Z", "symbolSize": 3364, "symbolStrokeWidth": 0, "labelFontSize": 43, "labelOffset": 14, "padding": 0}}
        }
      },
      {
        "data": {"name": "bins"},
        "transform": [{"fold": ["lo", "hi"], "as": ["side", "x"]}],
        "mark": {"type": "area", "opacity": 1, "fill": {"gradient": "linear", "x1": 0, "y1": 0, "x2": 1.0277, "y2": 0.0294, "stops": [
{"offset":0,"color":"#000"},{"offset":0.003,"color":"#000"},{"offset":0.003,"color":"transparent"},{"offset":0.0125,"color":"transparent"},
{"offset":0.0125,"color":"#000"},{"offset":0.0155,"color":"#000"},{"offset":0.0155,"color":"transparent"},{"offset":0.025,"color":"transparent"},
{"offset":0.025,"color":"#000"},{"offset":0.028,"color":"#000"},{"offset":0.028,"color":"transparent"},{"offset":0.0375,"color":"transparent"},
{"offset":0.0375,"color":"#000"},{"offset":0.0405,"color":"#000"},{"offset":0.0405,"color":"transparent"},{"offset":0.05,"color":"transparent"},
{"offset":0.05,"color":"#000"},{"offset":0.053,"color":"#000"},{"offset":0.053,"color":"transparent"},{"offset":0.0625,"color":"transparent"},
{"offset":0.0625,"color":"#000"},{"offset":0.0655,"color":"#000"},{"offset":0.0655,"color":"transparent"},{"offset":0.075,"color":"transparent"},
{"offset":0.075,"color":"#000"},{"offset":0.078,"color":"#000"},{"offset":0.078,"color":"transparent"},{"offset":0.0875,"color":"transparent"},
{"offset":0.0875,"color":"#000"},{"offset":0.0905,"color":"#000"},{"offset":0.0905,"color":"transparent"},{"offset":0.1,"color":"transparent"},
{"offset":0.1,"color":"#000"},{"offset":0.103,"color":"#000"},{"offset":0.103,"color":"transparent"},{"offset":0.1125,"color":"transparent"},
{"offset":0.1125,"color":"#000"},{"offset":0.1155,"color":"#000"},{"offset":0.1155,"color":"transparent"},{"offset":0.125,"color":"transparent"},
{"offset":0.125,"color":"#000"},{"offset":0.128,"color":"#000"},{"offset":0.128,"color":"transparent"},{"offset":0.1375,"color":"transparent"},
{"offset":0.1375,"color":"#000"},{"offset":0.1405,"color":"#000"},{"offset":0.1405,"color":"transparent"},{"offset":0.15,"color":"transparent"},
{"offset":0.15,"color":"#000"},{"offset":0.153,"color":"#000"},{"offset":0.153,"color":"transparent"},{"offset":0.1625,"color":"transparent"},
{"offset":0.1625,"color":"#000"},{"offset":0.1655,"color":"#000"},{"offset":0.1655,"color":"transparent"},{"offset":0.175,"color":"transparent"},
{"offset":0.175,"color":"#000"},{"offset":0.178,"color":"#000"},{"offset":0.178,"color":"transparent"},{"offset":0.1875,"color":"transparent"},
{"offset":0.1875,"color":"#000"},{"offset":0.1905,"color":"#000"},{"offset":0.1905,"color":"transparent"},{"offset":0.2,"color":"transparent"},
{"offset":0.2,"color":"#000"},{"offset":0.203,"color":"#000"},{"offset":0.203,"color":"transparent"},{"offset":0.2125,"color":"transparent"},
{"offset":0.2125,"color":"#000"},{"offset":0.2155,"color":"#000"},{"offset":0.2155,"color":"transparent"},{"offset":0.225,"color":"transparent"},
{"offset":0.225,"color":"#000"},{"offset":0.228,"color":"#000"},{"offset":0.228,"color":"transparent"},{"offset":0.2375,"color":"transparent"},
{"offset":0.2375,"color":"#000"},{"offset":0.2405,"color":"#000"},{"offset":0.2405,"color":"transparent"},{"offset":0.25,"color":"transparent"},
{"offset":0.25,"color":"#000"},{"offset":0.253,"color":"#000"},{"offset":0.253,"color":"transparent"},{"offset":0.2625,"color":"transparent"},
{"offset":0.2625,"color":"#000"},{"offset":0.2655,"color":"#000"},{"offset":0.2655,"color":"transparent"},{"offset":0.275,"color":"transparent"},
{"offset":0.275,"color":"#000"},{"offset":0.278,"color":"#000"},{"offset":0.278,"color":"transparent"},{"offset":0.2875,"color":"transparent"},
{"offset":0.2875,"color":"#000"},{"offset":0.2905,"color":"#000"},{"offset":0.2905,"color":"transparent"},{"offset":0.3,"color":"transparent"},
{"offset":0.3,"color":"#000"},{"offset":0.303,"color":"#000"},{"offset":0.303,"color":"transparent"},{"offset":0.3125,"color":"transparent"},
{"offset":0.3125,"color":"#000"},{"offset":0.3155,"color":"#000"},{"offset":0.3155,"color":"transparent"},{"offset":0.325,"color":"transparent"},
{"offset":0.325,"color":"#000"},{"offset":0.328,"color":"#000"},{"offset":0.328,"color":"transparent"},{"offset":0.3375,"color":"transparent"},
{"offset":0.3375,"color":"#000"},{"offset":0.3405,"color":"#000"},{"offset":0.3405,"color":"transparent"},{"offset":0.35,"color":"transparent"},
{"offset":0.35,"color":"#000"},{"offset":0.353,"color":"#000"},{"offset":0.353,"color":"transparent"},{"offset":0.3625,"color":"transparent"},
{"offset":0.3625,"color":"#000"},{"offset":0.3655,"color":"#000"},{"offset":0.3655,"color":"transparent"},{"offset":0.375,"color":"transparent"},
{"offset":0.375,"color":"#000"},{"offset":0.378,"color":"#000"},{"offset":0.378,"color":"transparent"},{"offset":0.3875,"color":"transparent"},
{"offset":0.3875,"color":"#000"},{"offset":0.3905,"color":"#000"},{"offset":0.3905,"color":"transparent"},{"offset":0.4,"color":"transparent"},
{"offset":0.4,"color":"#000"},{"offset":0.403,"color":"#000"},{"offset":0.403,"color":"transparent"},{"offset":0.4125,"color":"transparent"},
{"offset":0.4125,"color":"#000"},{"offset":0.4155,"color":"#000"},{"offset":0.4155,"color":"transparent"},{"offset":0.425,"color":"transparent"},
{"offset":0.425,"color":"#000"},{"offset":0.428,"color":"#000"},{"offset":0.428,"color":"transparent"},{"offset":0.4375,"color":"transparent"},
{"offset":0.4375,"color":"#000"},{"offset":0.4405,"color":"#000"},{"offset":0.4405,"color":"transparent"},{"offset":0.45,"color":"transparent"},
{"offset":0.45,"color":"#000"},{"offset":0.453,"color":"#000"},{"offset":0.453,"color":"transparent"},{"offset":0.4625,"color":"transparent"},
{"offset":0.4625,"color":"#000"},{"offset":0.4655,"color":"#000"},{"offset":0.4655,"color":"transparent"},{"offset":0.475,"color":"transparent"},
{"offset":0.475,"color":"#000"},{"offset":0.478,"color":"#000"},{"offset":0.478,"color":"transparent"},{"offset":0.4875,"color":"transparent"},
{"offset":0.4875,"color":"#000"},{"offset":0.4905,"color":"#000"},{"offset":0.4905,"color":"transparent"},{"offset":0.5,"color":"transparent"},
{"offset":0.5,"color":"#000"},{"offset":0.503,"color":"#000"},{"offset":0.503,"color":"transparent"},{"offset":0.5125,"color":"transparent"},
{"offset":0.5125,"color":"#000"},{"offset":0.5155,"color":"#000"},{"offset":0.5155,"color":"transparent"},{"offset":0.525,"color":"transparent"},
{"offset":0.525,"color":"#000"},{"offset":0.528,"color":"#000"},{"offset":0.528,"color":"transparent"},{"offset":0.5375,"color":"transparent"},
{"offset":0.5375,"color":"#000"},{"offset":0.5405,"color":"#000"},{"offset":0.5405,"color":"transparent"},{"offset":0.55,"color":"transparent"},
{"offset":0.55,"color":"#000"},{"offset":0.553,"color":"#000"},{"offset":0.553,"color":"transparent"},{"offset":0.5625,"color":"transparent"},
{"offset":0.5625,"color":"#000"},{"offset":0.5655,"color":"#000"},{"offset":0.5655,"color":"transparent"},{"offset":0.575,"color":"transparent"},
{"offset":0.575,"color":"#000"},{"offset":0.578,"color":"#000"},{"offset":0.578,"color":"transparent"},{"offset":0.5875,"color":"transparent"},
{"offset":0.5875,"color":"#000"},{"offset":0.5905,"color":"#000"},{"offset":0.5905,"color":"transparent"},{"offset":0.6,"color":"transparent"},
{"offset":0.6,"color":"#000"},{"offset":0.603,"color":"#000"},{"offset":0.603,"color":"transparent"},{"offset":0.6125,"color":"transparent"},
{"offset":0.6125,"color":"#000"},{"offset":0.6155,"color":"#000"},{"offset":0.6155,"color":"transparent"},{"offset":0.625,"color":"transparent"},
{"offset":0.625,"color":"#000"},{"offset":0.628,"color":"#000"},{"offset":0.628,"color":"transparent"},{"offset":0.6375,"color":"transparent"},
{"offset":0.6375,"color":"#000"},{"offset":0.6405,"color":"#000"},{"offset":0.6405,"color":"transparent"},{"offset":0.65,"color":"transparent"},
{"offset":0.65,"color":"#000"},{"offset":0.653,"color":"#000"},{"offset":0.653,"color":"transparent"},{"offset":0.6625,"color":"transparent"},
{"offset":0.6625,"color":"#000"},{"offset":0.6655,"color":"#000"},{"offset":0.6655,"color":"transparent"},{"offset":0.675,"color":"transparent"},
{"offset":0.675,"color":"#000"},{"offset":0.678,"color":"#000"},{"offset":0.678,"color":"transparent"},{"offset":0.6875,"color":"transparent"},
{"offset":0.6875,"color":"#000"},{"offset":0.6905,"color":"#000"},{"offset":0.6905,"color":"transparent"},{"offset":0.7,"color":"transparent"},
{"offset":0.7,"color":"#000"},{"offset":0.703,"color":"#000"},{"offset":0.703,"color":"transparent"},{"offset":0.7125,"color":"transparent"},
{"offset":0.7125,"color":"#000"},{"offset":0.7155,"color":"#000"},{"offset":0.7155,"color":"transparent"},{"offset":0.725,"color":"transparent"},
{"offset":0.725,"color":"#000"},{"offset":0.728,"color":"#000"},{"offset":0.728,"color":"transparent"},{"offset":0.7375,"color":"transparent"},
{"offset":0.7375,"color":"#000"},{"offset":0.7405,"color":"#000"},{"offset":0.7405,"color":"transparent"},{"offset":0.75,"color":"transparent"},
{"offset":0.75,"color":"#000"},{"offset":0.753,"color":"#000"},{"offset":0.753,"color":"transparent"},{"offset":0.7625,"color":"transparent"},
{"offset":0.7625,"color":"#000"},{"offset":0.7655,"color":"#000"},{"offset":0.7655,"color":"transparent"},{"offset":0.775,"color":"transparent"},
{"offset":0.775,"color":"#000"},{"offset":0.778,"color":"#000"},{"offset":0.778,"color":"transparent"},{"offset":0.7875,"color":"transparent"},
{"offset":0.7875,"color":"#000"},{"offset":0.7905,"color":"#000"},{"offset":0.7905,"color":"transparent"},{"offset":0.8,"color":"transparent"},
{"offset":0.8,"color":"#000"},{"offset":0.803,"color":"#000"},{"offset":0.803,"color":"transparent"},{"offset":0.8125,"color":"transparent"},
{"offset":0.8125,"color":"#000"},{"offset":0.8155,"color":"#000"},{"offset":0.8155,"color":"transparent"},{"offset":0.825,"color":"transparent"},
{"offset":0.825,"color":"#000"},{"offset":0.828,"color":"#000"},{"offset":0.828,"color":"transparent"},{"offset":0.8375,"color":"transparent"},
{"offset":0.8375,"color":"#000"},{"offset":0.8405,"color":"#000"},{"offset":0.8405,"color":"transparent"},{"offset":0.85,"color":"transparent"},
{"offset":0.85,"color":"#000"},{"offset":0.853,"color":"#000"},{"offset":0.853,"color":"transparent"},{"offset":0.8625,"color":"transparent"},
{"offset":0.8625,"color":"#000"},{"offset":0.8655,"color":"#000"},{"offset":0.8655,"color":"transparent"},{"offset":0.875,"color":"transparent"},
{"offset":0.875,"color":"#000"},{"offset":0.878,"color":"#000"},{"offset":0.878,"color":"transparent"},{"offset":0.8875,"color":"transparent"},
{"offset":0.8875,"color":"#000"},{"offset":0.8905,"color":"#000"},{"offset":0.8905,"color":"transparent"},{"offset":0.9,"color":"transparent"},
{"offset":0.9,"color":"#000"},{"offset":0.903,"color":"#000"},{"offset":0.903,"color":"transparent"},{"offset":0.9125,"color":"transparent"},
{"offset":0.9125,"color":"#000"},{"offset":0.9155,"color":"#000"},{"offset":0.9155,"color":"transparent"},{"offset":0.925,"color":"transparent"},
{"offset":0.925,"color":"#000"},{"offset":0.928,"color":"#000"},{"offset":0.928,"color":"transparent"},{"offset":0.9375,"color":"transparent"},
{"offset":0.9375,"color":"#000"},{"offset":0.9405,"color":"#000"},{"offset":0.9405,"color":"transparent"},{"offset":0.95,"color":"transparent"},
{"offset":0.95,"color":"#000"},{"offset":0.953,"color":"#000"},{"offset":0.953,"color":"transparent"},{"offset":0.9625,"color":"transparent"},
{"offset":0.9625,"color":"#000"},{"offset":0.9655,"color":"#000"},{"offset":0.9655,"color":"transparent"},{"offset":0.975,"color":"transparent"},
{"offset":0.975,"color":"#000"},{"offset":0.978,"color":"#000"},{"offset":0.978,"color":"transparent"},{"offset":0.9875,"color":"transparent"},
{"offset":0.9875,"color":"#000"},{"offset":0.9905,"color":"#000"},{"offset":0.9905,"color":"transparent"},{"offset":1,"color":"transparent"}
        ]}},
        "encoding": {
          "x": {"field": "x", "type": "quantitative", "scale": {"domain": [-1, 1], "nice": false, "zero": false},
                "axis": {"orient": "top", "values": [-1, -0.8, -0.6, -0.4, -0.2, 0, 0.2, 0.4, 0.6, 0.8, 1], "labels": false, "tickSize": -8, "title": null}},
          "y": {"field": "h_hi", "type": "quantitative", "scale": {"domain": [0, 2], "nice": false, "zero": false},
                "axis": {"orient": "right", "values": [0, 0.5, 1, 1.5], "labels": false, "tickSize": -28, "title": null}},
          "y2": {"field": "h_lo"}
        }
      },
      {
        "data": {"values": [{}]},
        "mark": {"type": "rule", "strokeDash": [10, 6], "strokeWidth": 2, "color": "black"},
        "encoding": {"y": {"datum": 1, "type": "quantitative", "scale": {"domain": [0, 2], "nice": false, "zero": false}, "axis": null}}
      },
      {
        "data": {"name": "bins"},
        "mark": {"type": "rule", "color": "black", "strokeWidth": 2},
        "encoding": {
          "x": {"field": "c", "type": "quantitative", "scale": {"domain": [-1, 1], "nice": false, "zero": false},
                "axis": {"orient": "bottom", "values": [-0.96,-0.92,-0.88,-0.84,-0.76,-0.72,-0.68,-0.64,-0.56,-0.52,-0.48,-0.44,-0.36,-0.32,-0.28,-0.24,-0.16,-0.12,-0.08,-0.04,0.04,0.08,0.12,0.16,0.24,0.28,0.32,0.36,0.44,0.48,0.52,0.56,0.64,0.68,0.72,0.76,0.84,0.88,0.92,0.96], "labels": false, "tickSize": -4, "title": null}},
          "y": {"field": "r_lo", "type": "quantitative", "scale": {"domain": [0, 2], "nice": false, "zero": false},
                "axis": {"orient": "left", "values": [0.1,0.2,0.3,0.4,0.6,0.7,0.8,0.9,1.1,1.2,1.3,1.4,1.6,1.7,1.8,1.9], "labels": false, "tickSize": -14, "title": null}},
          "y2": {"field": "r_hi"}
        }
      },
      {
        "data": {"name": "bins"},
        "transform": [{"fold": ["r_lo", "r_hi"], "as": ["e", "ev"]}],
        "mark": {"type": "point", "shape": "M-1,0H1", "size": 100, "filled": false, "stroke": "black", "strokeWidth": 2, "opacity": 1},
        "encoding": {
          "x": {"field": "c", "type": "quantitative", "scale": {"domain": [-1, 1], "nice": false, "zero": false},
                "axis": {"orient": "top", "values": [-0.96,-0.92,-0.88,-0.84,-0.76,-0.72,-0.68,-0.64,-0.56,-0.52,-0.48,-0.44,-0.36,-0.32,-0.28,-0.24,-0.16,-0.12,-0.08,-0.04,0.04,0.08,0.12,0.16,0.24,0.28,0.32,0.36,0.44,0.48,0.52,0.56,0.64,0.68,0.72,0.76,0.84,0.88,0.92,0.96], "labels": false, "tickSize": -4, "title": null}},
          "y": {"field": "ev", "type": "quantitative", "scale": {"domain": [0, 2], "nice": false, "zero": false},
                "axis": {"orient": "right", "values": [0.1,0.2,0.3,0.4,0.6,0.7,0.8,0.9,1.1,1.2,1.3,1.4,1.6,1.7,1.8,1.9], "labels": false, "tickSize": -14, "title": null}}
        }
      },
      {
        "data": {"name": "bins"},
        "mark": {"type": "circle", "color": "black", "size": 160, "opacity": 1},
        "encoding": {
          "x": {"field": "c", "type": "quantitative", "scale": {"domain": [-1, 1], "nice": false, "zero": false}, "axis": null},
          "y": {"field": "r", "type": "quantitative", "scale": {"domain": [0, 2], "nice": false, "zero": false}, "axis": null}
        }
      }
    ]
  }
]
}
